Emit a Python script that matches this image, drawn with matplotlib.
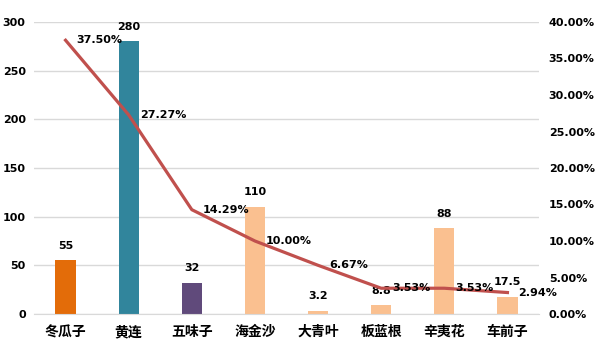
import matplotlib
matplotlib.use("Agg")
import matplotlib.pyplot as plt
from matplotlib.ticker import FuncFormatter

categories = ["冬瓜子", "黄连", "五味子", "海金沙", "大青叶", "板蓝根", "辛夷花", "车前子"]
amounts = [55, 280, 32, 110, 3.2, 8.8, 88, 17.5]
amount_labels = ["55", "280", "32", "110", "3.2", "8.8", "88", "17.5"]
ratios = [0.3750, 0.2727, 0.1429, 0.1000, 0.0667, 0.0353, 0.0353, 0.0294]
bar_colors = ["#E36C09", "#31859C", "#604A7B", "#FAC090", "#FAC090", "#FAC090", "#FAC090", "#FAC090"]

plt.rcParams['font.family'] = ['Noto Sans CJK SC', 'DejaVu Sans']

fig = plt.figure(figsize=(5.96, 3.57), dpi=100)
ax = fig.add_axes([34/596, 1-314/357, (539-34)/596, (314-22)/357])
x = list(range(len(categories)))
ax.bar(x, amounts, width=0.32, color=bar_colors, zorder=2)
ax.set_ylim(0, 300)
ax.set_xlim(-0.5, len(categories)-0.5)
ax.set_yticks([0, 50, 100, 150, 200, 250, 300])
ax.yaxis.grid(True, color="#D9D9D9", linewidth=1, zorder=0)
for s in ["top", "right", "left"]:
    ax.spines[s].set_visible(False)
ax.spines["bottom"].set_color("#D9D9D9")
ax.tick_params(axis="both", length=0)
ax.tick_params(axis="y", pad=6)
ax.set_xticks(x)
ax.set_xticklabels(categories, fontsize=10, fontweight="bold")
ax.tick_params(axis="x", pad=8)
for lab in ax.get_yticklabels():
    lab.set_fontsize(8)
    lab.set_fontweight("bold")
    lab.set_family("DejaVu Sans")

for xi, v, t in zip(x, amounts, amount_labels):
    ax.annotate(t, (xi, v), xytext=(0, 7), textcoords="offset points",
                ha="center", va="bottom", fontsize=8, fontweight="bold", family="DejaVu Sans")

ax2 = ax.twinx()
ax2.set_ylim(0, 0.40)
ax2.set_yticks([0, 0.05, 0.10, 0.15, 0.20, 0.25, 0.30, 0.35, 0.40])
ax2.yaxis.set_major_formatter(FuncFormatter(lambda v, p: f"{v*100:.2f}%"))
for s in ["top", "right", "left", "bottom"]:
    ax2.spines[s].set_visible(False)
ax2.tick_params(axis="y", length=0, pad=7)
for lab in ax2.get_yticklabels():
    lab.set_fontsize(8)
    lab.set_fontweight("bold")
    lab.set_family("DejaVu Sans")
ax2.plot(x, ratios, color="#C0504D", linewidth=2.3, zorder=3)
for xi, r in zip(x, ratios):
    ax2.annotate(f"{r*100:.2f}%", (xi, r), xytext=(8, 0), textcoords="offset points",
                 ha="left", va="center", fontsize=8, fontweight="bold", family="DejaVu Sans")

fig.savefig("out.png", dpi=100)
